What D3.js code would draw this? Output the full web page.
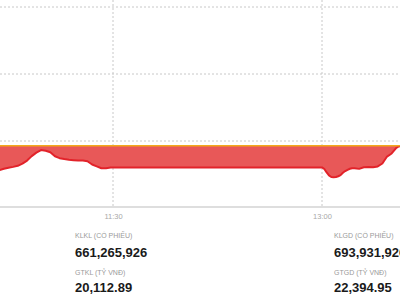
<!DOCTYPE html>
<html><head><meta charset="utf-8">
<script src="https://cdn.jsdelivr.net/npm/d3@7"></script>
<style>body{margin:0;background:#fff;overflow:hidden}svg{display:block}</style>
</head><body><svg id="c" width="400" height="300"></svg>
<script>
const refValue = 1249.65;
const yTicks = [1250, 1255, 1260];
const xTickLabels = ["11:30", "13:00"];
const times = ["10:41","10:43","10:45","10:47","10:49","10:51","10:53","10:55","10:57","10:59",
  "11:01","11:03","11:05","11:07","11:09","11:11","11:13","11:15","11:17","11:19",
  "11:21","11:23","11:25","11:27","11:29","11:30",
  "13:00","13:01","13:02","13:03","13:04","13:05","13:06","13:07","13:08","13:09",
  "13:10","13:11","13:12","13:13","13:14","13:16","13:18","13:20","13:22","13:24",
  "13:26","13:28","13:30","13:32","13:33","13:34"];
const prices = [1247.82,1247.93,1248.01,1248.07,1248.15,1248.31,1248.54,1248.87,1249.13,1249.32,
  1249.27,1249.16,1248.86,1248.72,1248.65,1248.60,1248.57,1248.54,1248.54,1248.49,
  1248.25,1248.11,1247.97,1247.97,1248.02,1248.03,
  1248.03,1247.91,1247.65,1247.43,1247.31,1247.29,1247.31,1247.37,1247.45,1247.63,
  1247.76,1247.85,1247.93,1247.97,1247.97,1247.92,1248.04,1248.06,1248.04,1248.10,
  1248.32,1248.84,1249.07,1249.48,1249.59,1249.63];
const statLabels = ["KLKL (CỔ PHIẾU)", "GTKL (TỶ VNĐ)", "KLGD (CỔ PHIẾU)", "GTGD (TỶ VNĐ)"];
const statValues = ["661,265,926", "20,112.89", "693,931,926", "22,394.95"];

const parse = d3.timeParse("%H:%M");
const data = times.map((t,i)=>({t:parse(t), v:prices[i]}));
const svg = d3.select("#c");
const x = d3.scaleTime().domain([parse("11:30"), parse("13:00")]).range([113, 322]);
const y = d3.scaleLinear().domain([1245, 1260]).range([208, 7]);

svg.append("g").selectAll("line").data(yTicks).join("line")
  .attr("x1",0).attr("x2",400).attr("y1",d=>y(d)).attr("y2",d=>y(d))
  .attr("stroke","#c8c8c8").attr("stroke-width",1).attr("stroke-dasharray","2,2");
svg.append("g").selectAll("line").data(xTickLabels).join("line")
  .attr("x1",d=>x(parse(d))).attr("x2",d=>x(parse(d))).attr("y1",0).attr("y2",207)
  .attr("stroke","#c8c8c8").attr("stroke-width",1).attr("stroke-dasharray","2,2");

const area = d3.area().x(d=>x(d.t)).y0(y(refValue)).y1(d=>y(d.v));
svg.append("path").datum(data).attr("d",area).attr("fill","#e85858");
const line = d3.line().x(d=>x(d.t)).y(d=>y(d.v));
svg.append("path").datum(data).attr("d",line).attr("fill","none")
  .attr("stroke","#e2232a").attr("stroke-width",2).attr("stroke-linejoin","round");
svg.append("line").attr("x1",0).attr("x2",400).attr("y1",y(refValue)).attr("y2",y(refValue))
  .attr("stroke","#f2a81d").attr("stroke-width",1.5);

const xAxis = d3.axisBottom(x).tickValues(xTickLabels.map(parse)).tickFormat(d3.timeFormat("%H:%M")).tickSize(0).tickPadding(7);
const ga = svg.append("g").attr("transform","translate(0,207)").call(xAxis);
ga.select(".domain").remove();
ga.append("line").attr("x1",0).attr("x2",400).attr("stroke","#d3d3d3").attr("stroke-width",1.5);
ga.selectAll("text").attr("fill","#a8a8a8").attr("font-size","7.5px").attr("font-family","Liberation Sans, Arial, sans-serif");

const sx = [75, 75, 334, 334];
const ly = [237.5, 274.5, 237.5, 274.5];
const vy = [257, 292, 257, 292];
svg.append("g").selectAll("text").data(statLabels).join("text")
  .attr("x",(d,i)=>sx[i]).attr("y",(d,i)=>ly[i]).text(d=>d)
  .attr("fill","#9a9a9a").attr("font-size","7px").attr("font-family","Liberation Sans, Arial, sans-serif");
svg.append("g").selectAll("text").data(statValues).join("text")
  .attr("x",(d,i)=>sx[i]).attr("y",(d,i)=>vy[i]).text(d=>d)
  .attr("fill","#1a1a1a").attr("font-size","13px").attr("font-weight","bold").attr("font-family","Liberation Sans, Arial, sans-serif");
</script></body></html>
